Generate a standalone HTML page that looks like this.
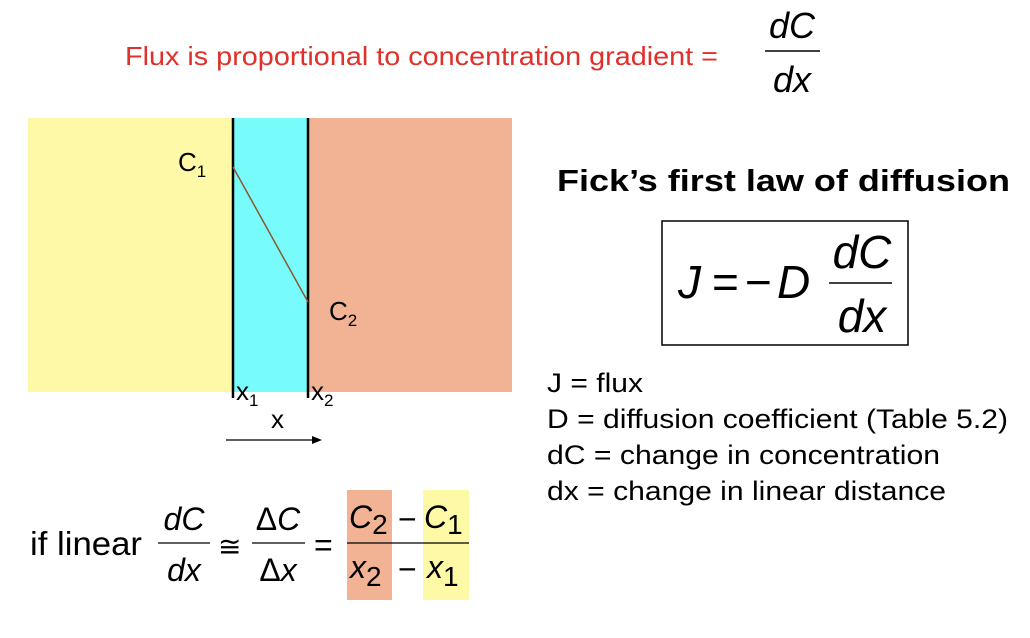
<!DOCTYPE html>
<html><head><meta charset="utf-8"><style>
html,body{margin:0;padding:0;background:#fff;}
svg{display:block;}
text{font-family:"Liberation Sans",Arial,sans-serif;}
</style></head><body>
<svg width="1030" height="638" viewBox="0 0 1030 638" xmlns="http://www.w3.org/2000/svg">
<text x="125" y="65" font-size="26" fill="#e0302a" textLength="593" lengthAdjust="spacingAndGlyphs">Flux is proportional to concentration gradient =</text>
<text x="792" y="38" font-size="36" font-style="italic" text-anchor="middle">dC</text>
<line x1="765" y1="51" x2="820" y2="51" stroke="#000" stroke-width="1.5"/>
<text x="792" y="92" font-size="36" font-style="italic" text-anchor="middle">dx</text>

<rect x="28" y="118" width="205" height="274" fill="#fdf9a6"/>
<rect x="233" y="118" width="75" height="274" fill="#78fbfb"/>
<rect x="308" y="118" width="204" height="274" fill="#f1b393"/>
<line x1="233" y1="118" x2="233" y2="398" stroke="#000" stroke-width="2.5"/>
<line x1="308" y1="118" x2="308" y2="398" stroke="#000" stroke-width="2.5"/>
<line x1="233" y1="167" x2="308" y2="302" stroke="#8a5a30" stroke-width="1.5"/>
<text x="178" y="171" font-size="26">C<tspan font-size="17" dy="6">1</tspan></text>
<text x="329" y="320" font-size="26">C<tspan font-size="17" dy="6">2</tspan></text>
<text x="236" y="400" font-size="26">x<tspan font-size="17" dy="6">1</tspan></text>
<text x="311" y="400" font-size="26">x<tspan font-size="17" dy="6">2</tspan></text>
<text x="271" y="428" font-size="26">x</text>
<line x1="226" y1="440" x2="316" y2="440" stroke="#000" stroke-width="1.3"/>
<polygon points="322,440 312,436 312,444" fill="#000"/>

<text x="557" y="191" font-size="31" font-weight="bold" textLength="453" lengthAdjust="spacingAndGlyphs">Fick’s first law of diffusion</text>
<rect x="662" y="221" width="246" height="124" fill="none" stroke="#000" stroke-width="1.5"/>
<text x="678" y="298" font-size="46" font-style="italic">J</text>
<text x="712" y="298" font-size="46">=</text>
<text x="745" y="298" font-size="46">−</text>
<text x="777" y="298" font-size="46" font-style="italic">D</text>
<text x="862" y="268" font-size="46" font-style="italic" text-anchor="middle">dC</text>
<line x1="829" y1="283" x2="892" y2="283" stroke="#000" stroke-width="1.5"/>
<text x="862" y="332" font-size="46" font-style="italic" text-anchor="middle">dx</text>

<g font-size="27">
<text x="547" y="392" textLength="96" lengthAdjust="spacingAndGlyphs">J = flux</text>
<text x="547" y="428" textLength="461" lengthAdjust="spacingAndGlyphs">D = diffusion coefficient (Table 5.2)</text>
<text x="547" y="464" textLength="393" lengthAdjust="spacingAndGlyphs">dC = change in concentration</text>
<text x="547" y="500" textLength="399" lengthAdjust="spacingAndGlyphs">dx = change in linear distance</text>
</g>

<rect x="347" y="490" width="45" height="110" fill="#f1b393"/>
<rect x="423" y="490" width="46" height="110" fill="#fdf9a6"/>
<text x="30" y="555" font-size="33" textLength="112" lengthAdjust="spacingAndGlyphs">if linear</text>
<text x="184" y="530" font-size="32" font-style="italic" text-anchor="middle">dC</text>
<line x1="158" y1="543" x2="210" y2="543" stroke="#000" stroke-width="1.3"/>
<text x="184" y="581" font-size="32" font-style="italic" text-anchor="middle">dx</text>
<text x="218" y="556" font-size="28">≅</text>
<text x="278" y="530" font-size="32" text-anchor="middle">Δ<tspan font-style="italic">C</tspan></text>
<line x1="252" y1="543" x2="305" y2="543" stroke="#000" stroke-width="1.3"/>
<text x="278" y="581" font-size="32" text-anchor="middle">Δ<tspan font-style="italic">x</tspan></text>
<text x="314" y="556" font-size="32">=</text>
<text x="349" y="528" font-size="32" font-style="italic">C<tspan font-style="normal" font-size="28" dy="6">2</tspan></text>
<text x="398" y="530" font-size="32">−</text>
<text x="424" y="528" font-size="32" font-style="italic">C<tspan font-style="normal" font-size="28" dy="6">1</tspan></text>
<line x1="347" y1="543" x2="469" y2="543" stroke="#000" stroke-width="1.3"/>
<text x="350" y="578" font-size="32" font-style="italic">x<tspan font-style="normal" font-size="28" dy="8">2</tspan></text>
<text x="398" y="580" font-size="32">−</text>
<text x="427" y="578" font-size="32" font-style="italic">x<tspan font-style="normal" font-size="28" dy="8">1</tspan></text>
</svg>
</body></html>
